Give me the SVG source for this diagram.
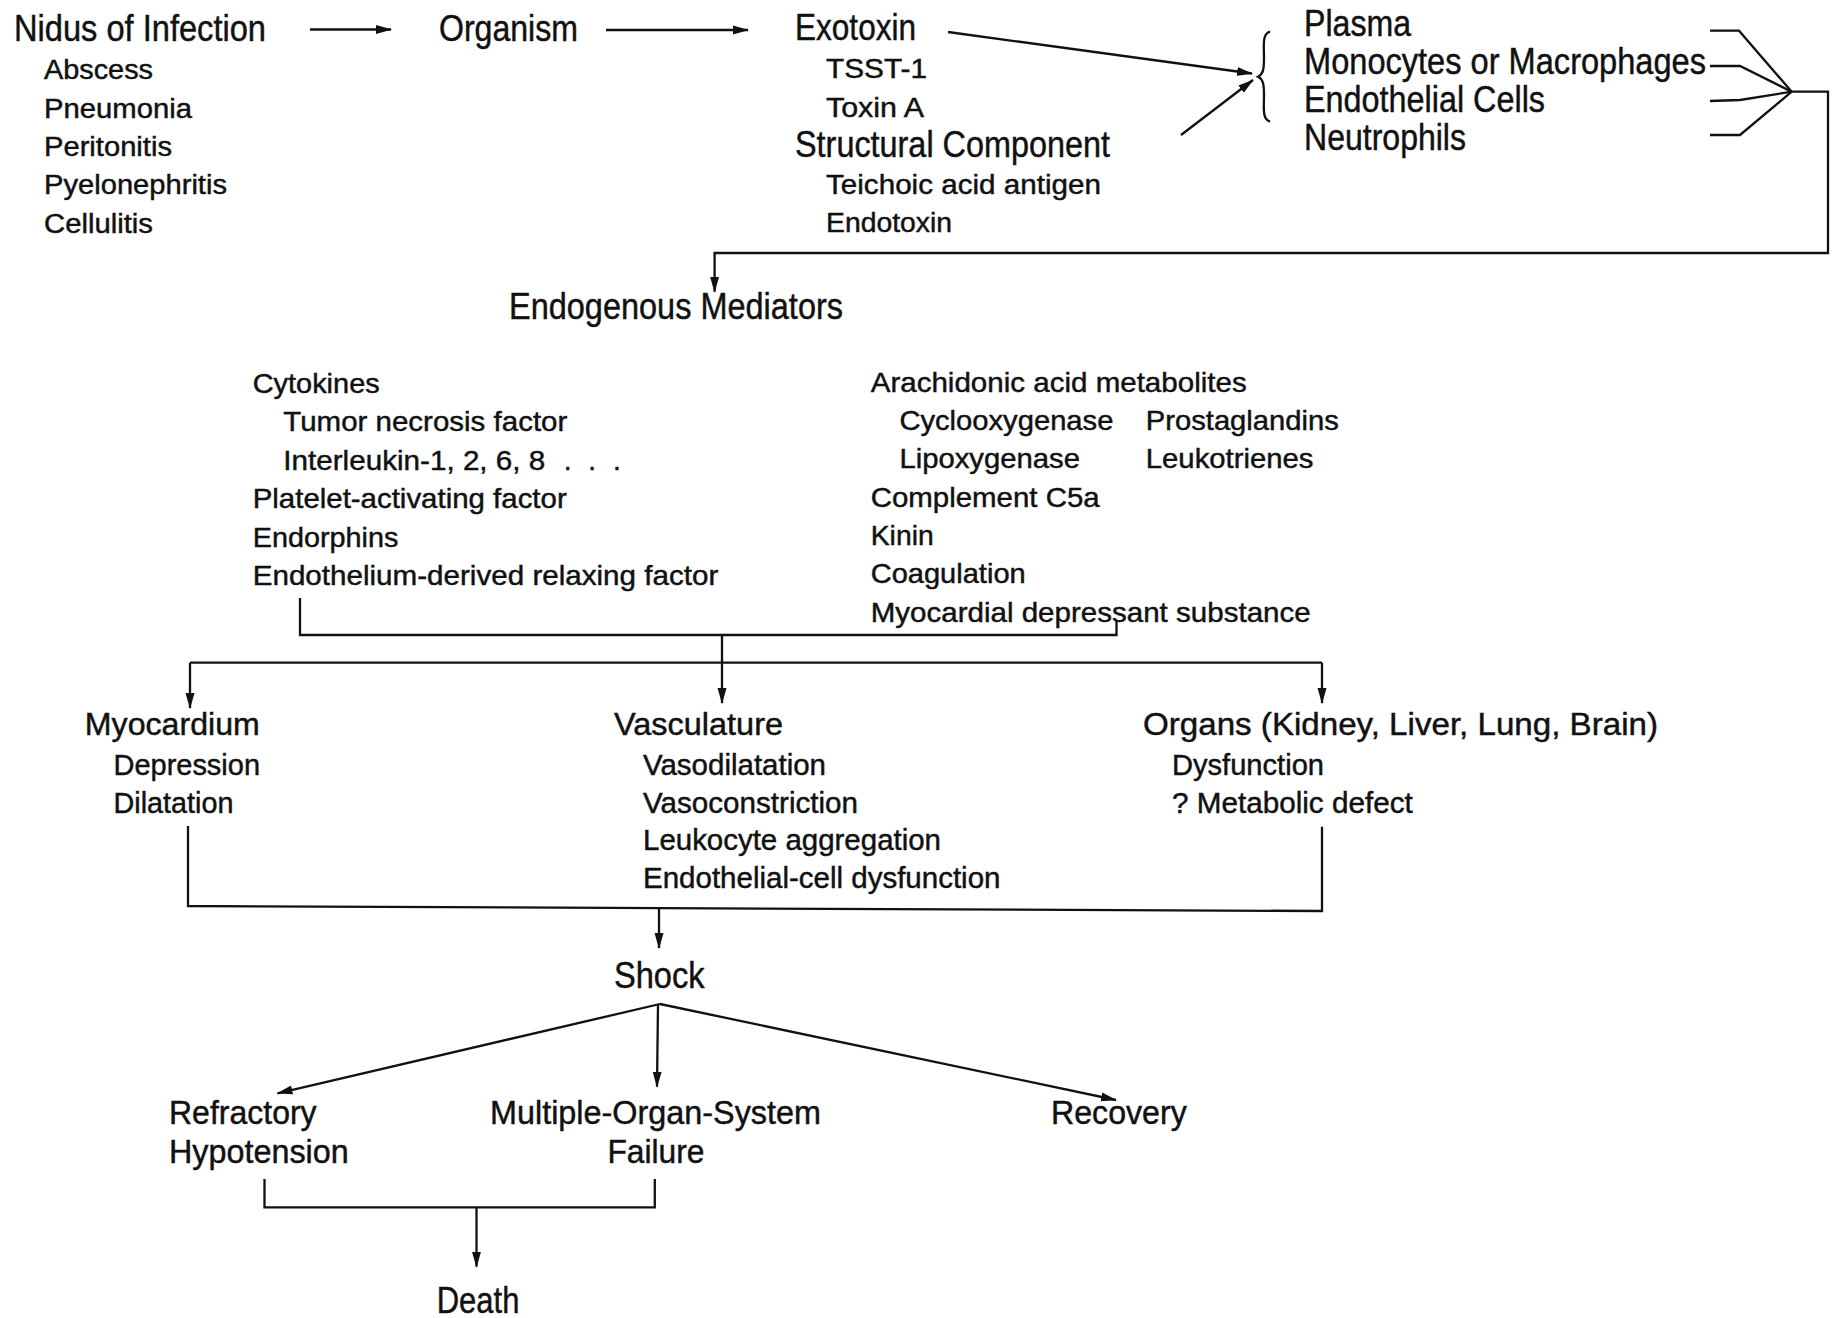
<svg xmlns="http://www.w3.org/2000/svg" width="1837" height="1318" viewBox="0 0 1837 1318">
<style>
text{font-family:"Liberation Sans",Arial,Helvetica,sans-serif;fill:#111;stroke:#111;stroke-width:0.45}
.h{font-size:36px}
.s{font-size:27px}
.m{font-size:28px}
.o{font-size:31px}
.os{font-size:29px}
.r{font-size:33px}
.ln{fill:none;stroke:#111;stroke-width:2.3}
.ar{fill:none;stroke:#111;stroke-width:2.3;marker-end:url(#ah)}
</style>
<defs>
<marker id="ah" markerUnits="userSpaceOnUse" markerWidth="16" markerHeight="10" refX="15" refY="5" orient="auto">
<path d="M0,0.5 L16,5 L0,9.5 Z" fill="#111"/>
</marker>
</defs>
<rect width="1837" height="1318" fill="#fff"/>

<g id="connectors">
<line class="ar" x1="310" y1="29.5" x2="391" y2="29.5"/>
<line class="ar" x1="606" y1="30" x2="748" y2="30"/>
<line class="ar" x1="948" y1="32" x2="1252" y2="73.5"/>
<line class="ar" x1="1181" y1="135" x2="1253" y2="80"/>
<path class="ln" stroke-width="3" d="M1270,31.7 C1262,34 1264,45 1264,58 C1264,70 1263,74 1258,76.7 C1263,79 1264,84 1264,95 C1264,108 1262,119 1270,121.7"/>
<polyline class="ln" points="1710,30.7 1739,30.7 1791.7,91.7"/>
<polyline class="ln" points="1710,66 1740,66 1791.7,91.7"/>
<polyline class="ln" points="1710,101 1740,100 1791.7,91.7"/>
<polyline class="ln" points="1710,135 1740,135 1791.7,91.7"/>
<polyline class="ar" points="1791.7,91.7 1828,91.7 1828,253 714.6,253 714.6,291.7"/>
<polyline class="ln" points="300,598 300,635 1116.5,635 1116.5,620"/>
<line class="ar" x1="722" y1="635" x2="722" y2="703"/>
<line class="ln" x1="190" y1="662.7" x2="1322" y2="662.7"/>
<line class="ar" x1="190" y1="662.7" x2="190" y2="708"/>
<line class="ar" x1="1322" y1="662.7" x2="1322" y2="703"/>
<polyline class="ln" points="188,826 188,906 1322,911 1322,826.7"/>
<line class="ar" x1="659" y1="908" x2="659" y2="948"/>
<line class="ar" x1="660" y1="1004" x2="277.5" y2="1093.3"/>
<line class="ar" x1="658" y1="1004" x2="657" y2="1086.7"/>
<line class="ar" x1="660" y1="1004" x2="1116" y2="1100"/>
<polyline class="ln" points="264.5,1179 264.5,1207.3 654.8,1207.3 654.8,1179"/>
<line class="ar" x1="476.5" y1="1207.3" x2="476.5" y2="1266.7"/>
</g>

<g id="nidus">
<text class="h" x="14" y="41" textLength="252" lengthAdjust="spacingAndGlyphs">Nidus of Infection</text>
<text class="s" x="44" y="79.3" textLength="109" lengthAdjust="spacingAndGlyphs">Abscess</text>
<text class="s" x="44" y="117.6" textLength="148" lengthAdjust="spacingAndGlyphs">Pneumonia</text>
<text class="s" x="44" y="156" textLength="128" lengthAdjust="spacingAndGlyphs">Peritonitis</text>
<text class="s" x="44" y="194.3" textLength="183" lengthAdjust="spacingAndGlyphs">Pyelonephritis</text>
<text class="s" x="44" y="232.6" textLength="109" lengthAdjust="spacingAndGlyphs">Cellulitis</text>
</g>

<g id="organism">
<text class="h" x="439" y="41" textLength="139" lengthAdjust="spacingAndGlyphs">Organism</text>
</g>

<g id="toxins">
<text class="h" x="795" y="40" textLength="121" lengthAdjust="spacingAndGlyphs">Exotoxin</text>
<text class="s" x="826" y="78" textLength="101" lengthAdjust="spacingAndGlyphs">TSST-1</text>
<text class="s" x="826" y="117" textLength="98" lengthAdjust="spacingAndGlyphs">Toxin A</text>
<text class="h" x="795" y="156.5" textLength="315" lengthAdjust="spacingAndGlyphs">Structural Component</text>
<text class="s" x="826" y="194.3" textLength="275" lengthAdjust="spacingAndGlyphs">Teichoic acid antigen</text>
<text class="s" x="826" y="231.7" textLength="126" lengthAdjust="spacingAndGlyphs">Endotoxin</text>
</g>

<g id="targets">
<text class="h" x="1304" y="36" textLength="107" lengthAdjust="spacingAndGlyphs">Plasma</text>
<text class="h" x="1304" y="74" textLength="402" lengthAdjust="spacingAndGlyphs">Monocytes or Macrophages</text>
<text class="h" x="1304" y="111.7" textLength="241" lengthAdjust="spacingAndGlyphs">Endothelial Cells</text>
<text class="h" x="1304" y="150" textLength="162" lengthAdjust="spacingAndGlyphs">Neutrophils</text>
</g>

<g id="mediators">
<text class="h" x="509" y="319.3" textLength="334" lengthAdjust="spacingAndGlyphs">Endogenous Mediators</text>
</g>

<g id="mediators-left">
<text class="m" x="252.7" y="392.7" textLength="127" lengthAdjust="spacingAndGlyphs">Cytokines</text>
<text class="m" x="283.3" y="431.3" textLength="284" lengthAdjust="spacingAndGlyphs">Tumor necrosis factor</text>
<text class="m" y="469.5"><tspan x="283.3" textLength="262" lengthAdjust="spacingAndGlyphs">Interleukin-1, 2, 6, 8</tspan><tspan x="547" word-spacing="9"> . . .</tspan></text>
<text class="m" x="252.7" y="508" textLength="314" lengthAdjust="spacingAndGlyphs">Platelet-activating factor</text>
<text class="m" x="252.7" y="546.5" textLength="145.6" lengthAdjust="spacingAndGlyphs">Endorphins</text>
<text class="m" x="252.7" y="585" textLength="465.6" lengthAdjust="spacingAndGlyphs">Endothelium-derived relaxing factor</text>
</g>

<g id="mediators-right">
<text class="m" x="870.7" y="391.7" textLength="376" lengthAdjust="spacingAndGlyphs">Arachidonic acid metabolites</text>
<text class="m" x="899.4" y="430" textLength="214" lengthAdjust="spacingAndGlyphs">Cyclooxygenase</text>
<text class="m" x="1145.8" y="430" textLength="193" lengthAdjust="spacingAndGlyphs">Prostaglandins</text>
<text class="m" x="899.4" y="468.3" textLength="180.6" lengthAdjust="spacingAndGlyphs">Lipoxygenase</text>
<text class="m" x="1145.8" y="468.3" textLength="167.6" lengthAdjust="spacingAndGlyphs">Leukotrienes</text>
<text class="m" x="870.7" y="506.7" textLength="229" lengthAdjust="spacingAndGlyphs">Complement C5a</text>
<text class="m" x="870.7" y="545" textLength="63" lengthAdjust="spacingAndGlyphs">Kinin</text>
<text class="m" x="870.7" y="583.3" textLength="155" lengthAdjust="spacingAndGlyphs">Coagulation</text>
<text class="m" x="870.7" y="621.7" textLength="440" lengthAdjust="spacingAndGlyphs">Myocardial depressant substance</text>
</g>

<g id="myocardium">
<text class="o" x="84.8" y="735" textLength="175" lengthAdjust="spacingAndGlyphs">Myocardium</text>
<text class="os" x="113.5" y="775" textLength="146.5" lengthAdjust="spacingAndGlyphs">Depression</text>
<text class="os" x="113.5" y="813.3" textLength="120" lengthAdjust="spacingAndGlyphs">Dilatation</text>
</g>

<g id="vasculature">
<text class="o" x="614" y="735" textLength="169" lengthAdjust="spacingAndGlyphs">Vasculature</text>
<text class="os" x="643" y="775" textLength="183" lengthAdjust="spacingAndGlyphs">Vasodilatation</text>
<text class="os" x="643" y="813.3" textLength="215" lengthAdjust="spacingAndGlyphs">Vasoconstriction</text>
<text class="os" x="643" y="850" textLength="298" lengthAdjust="spacingAndGlyphs">Leukocyte aggregation</text>
<text class="os" x="643" y="888.3" textLength="357.5" lengthAdjust="spacingAndGlyphs">Endothelial-cell dysfunction</text>
</g>

<g id="organs">
<text class="o" x="1143" y="735" textLength="515" lengthAdjust="spacingAndGlyphs">Organs (Kidney, Liver, Lung, Brain)</text>
<text class="os" x="1172" y="775" textLength="152" lengthAdjust="spacingAndGlyphs">Dysfunction</text>
<text class="os" x="1172" y="813.3" textLength="240.7" lengthAdjust="spacingAndGlyphs">? Metabolic defect</text>
</g>

<g id="shock">
<text class="h" x="614" y="988.3" textLength="90.6" lengthAdjust="spacingAndGlyphs">Shock</text>
</g>

<g id="refractory">
<text class="r" x="169" y="1124" textLength="147.6" lengthAdjust="spacingAndGlyphs">Refractory</text>
<text class="r" x="169" y="1163.3" textLength="179.7" lengthAdjust="spacingAndGlyphs">Hypotension</text>
</g>

<g id="mosf">
<text class="r" x="490" y="1124" textLength="331" lengthAdjust="spacingAndGlyphs">Multiple-Organ-System</text>
<text class="r" x="607.4" y="1163.3" textLength="97" lengthAdjust="spacingAndGlyphs">Failure</text>
</g>

<g id="recovery">
<text class="r" x="1051" y="1124" textLength="135.7" lengthAdjust="spacingAndGlyphs">Recovery</text>
</g>

<g id="death">
<text class="h" x="436.7" y="1313" textLength="82.7" lengthAdjust="spacingAndGlyphs">Death</text>
</g>
</svg>
